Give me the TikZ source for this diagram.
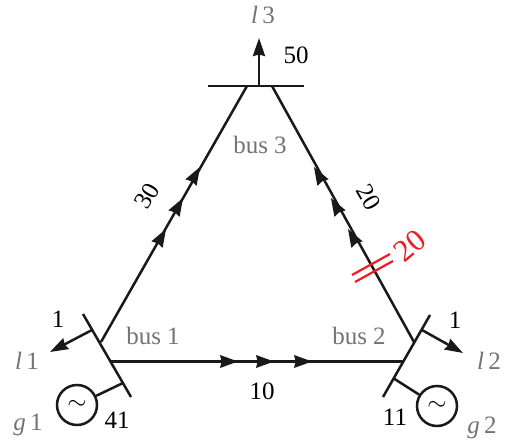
\documentclass[tikz,border=0pt]{standalone}
\usepackage{fontspec}
\setmainfont{Liberation Serif}
\usetikzlibrary{arrows.meta}
\definecolor{lblgray}{gray}{0.45}
\definecolor{flowred}{RGB}{237,28,36}
\tikzset{
  x=1pt,y=-1pt,
  wire/.style={line width=2.5pt,draw=black!90},
  busbar/.style={line width=2.5pt,draw=black!90},
  loadarrow/.style={wire,-{Stealth[length=18pt,width=12pt,inset=1.5pt]}},
  flowtip/.style={fill=black!90,draw=none},
  gen/.style={circle,draw=black!90,line width=2.5pt,minimum size=40pt,inner sep=0pt,font=\fontsize{25}{25}\selectfont},
  val/.style={inner sep=0pt,font=\fontsize{25}{25}\selectfont},
  lbl/.style={inner sep=0pt,text=lblgray,font=\fontsize{25}{25}\selectfont},
  congest/.style={line width=2.2pt,draw=flowred},
}
\newcommand{\flowhead}[2]{\fill[flowtip,shift={(#1)},rotate=#2] (0,0) -- (-18,-6.5) -- (-16.5,0) -- (-18,6.5) -- cycle;}
\begin{document}
\begin{tikzpicture}
\useasboundingbox (0,0) rectangle (506,444);
% buses
\coordinate (b3a) at (208,86); \coordinate (b3b) at (304,86);
\coordinate (b1a) at (83,314); \coordinate (b1b) at (131,397);
\coordinate (b2a) at (430,315); \coordinate (b2b) at (383,397);
\draw[busbar] (b3a) -- (b3b);
\draw[busbar] (b1a) -- (b1b);
\draw[busbar] (b2a) -- (b2b);
% lines
\coordinate (l13a) at (101,342); \coordinate (l13b) at (247,86);
\coordinate (l23a) at (414,342); \coordinate (l23b) at (272,86);
\coordinate (l12a) at (111,361.5); \coordinate (l12b) at (403,361.5);
\draw[wire] (l13a) -- (l13b);
\draw[wire] (l23a) -- (l23b);
\draw[wire] (l12a) -- (l12b);
% flow arrowheads
\foreach \p in {(166,229),(183,198),(200,167)} {\flowhead{\p}{60}}
\foreach \p in {(348,229),(331,198),(314,167)} {\flowhead{\p}{120}}
\foreach \p in {(238,361.5),(274,361.5),(312,361.5)} {\flowhead{\p}{0}}
% loads
\coordinate (t3) at (259,86); \coordinate (h3) at (259,38);
\coordinate (t1) at (92,330); \coordinate (h1) at (50,352);
\coordinate (t2) at (422,330); \coordinate (h2) at (463,353);
\draw[loadarrow] (t3) -- (h3);
\draw[loadarrow] (t1) -- (h1);
\draw[loadarrow] (t2) -- (h2);
% generators
\node[gen] (g1) at (77,405) {$\sim$};
\node[gen] (g2) at (437,406) {$\sim$};
\coordinate (s1) at (123,383); \coordinate (s2) at (393,378);
\draw[wire] (s1) -- (g1);
\draw[wire] (s2) -- (g2);
% congestion mark
\coordinate (c1a) at (352,275); \coordinate (c1b) at (390,254);
\coordinate (c2a) at (355,282); \coordinate (c2b) at (393,261);
\draw[congest] (c1a) -- (c1b);
\draw[congest] (c2a) -- (c2b);
% labels
\node[lbl] (bus1) at (153,336) {bus 1};
\node[lbl] (bus2) at (359,336) {bus 2};
\node[lbl] (bus3) at (260,145) {bus 3};
\node[lbl] (nl3) at (263,15) {\textit{l}\,3};
\node[lbl] (nl1) at (27,361) {\textit{l}\,1};
\node[lbl] (nl2) at (489,361) {\textit{l}\,2};
\node[lbl] (ng1) at (28,425) {\textit{g}\,1};
\node[lbl] (ng2) at (482,428) {\textit{g}\,2};
\node[val] (v50) at (296,55) {50};
\node[val] (v1a) at (58,319) {1};
\node[val] (v1b) at (455,320) {1};
\node[val] (v41) at (117,420) {41};
\node[val] (v11) at (395,417) {11};
\node[val] (v10) at (262,391) {10};
\node[val,rotate=60] (v30) at (147,196) {30};
\node[val,rotate=-60] (v20) at (369,197) {20};
\node[val,text=flowred,rotate=40,font=\fontsize{31}{31}\selectfont] (v20r) at (410,246) {20};
\end{tikzpicture}
\end{document}
